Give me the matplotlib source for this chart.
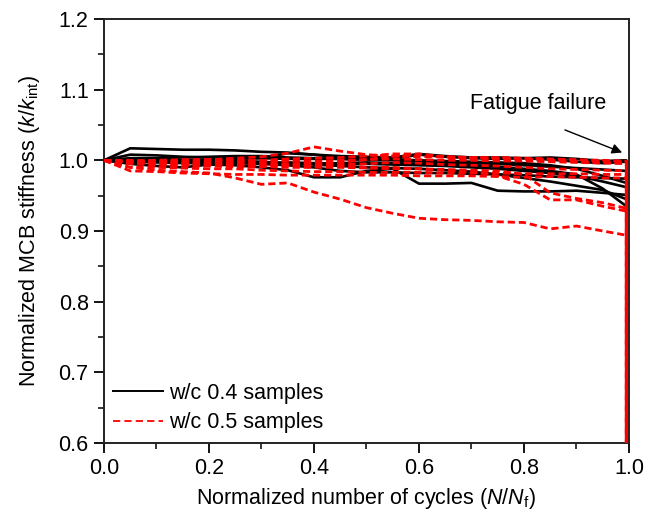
import numpy as np
import matplotlib
matplotlib.use("Agg")
import matplotlib.pyplot as plt

plt.rcParams['font.family'] = ['Liberation Sans', 'DejaVu Sans']
plt.rcParams['mathtext.fontset'] = 'custom'
plt.rcParams['mathtext.rm'] = 'Liberation Sans'
plt.rcParams['mathtext.it'] = 'Liberation Sans:italic'

x = [0.0, 0.05, 0.1, 0.15, 0.2, 0.25, 0.3, 0.35, 0.4, 0.45, 0.5, 0.55, 0.6,
     0.65, 0.7, 0.75, 0.8, 0.85, 0.9, 0.95, 0.995]
x_fail = 0.995
y_fail = 0.6

black_series = [
    [1.000,1.017,1.016,1.015,1.015,1.014,1.012,1.011,1.008,1.006,1.005,1.004,1.009,1.006,1.004,1.004,1.003,1.004,1.002,0.999,1.000],
    [1.000,1.008,1.007,1.005,1.004,1.004,1.003,1.010,1.008,1.004,1.002,1.002,1.008,1.005,1.003,1.002,1.003,1.001,0.998,0.996,0.998],
    [1.000,0.995,0.992,0.990,0.994,0.993,0.990,0.986,0.976,0.976,0.985,0.988,0.967,0.967,0.968,0.957,0.956,0.956,0.957,0.954,0.951],
    [1.000,1.002,1.001,1.000,0.999,0.998,0.995,0.993,0.990,0.985,0.983,0.983,0.982,0.982,0.981,0.980,0.979,0.977,0.976,0.975,0.974],
    [1.000,0.999,0.999,0.998,0.998,0.997,0.996,0.997,0.996,0.995,0.995,0.994,0.993,0.992,0.990,0.988,0.985,0.982,0.978,0.970,0.962],
    [1.000,1.000,1.001,1.000,1.001,1.002,1.003,1.002,1.002,1.002,1.001,1.001,1.000,0.999,0.998,0.997,0.996,0.993,0.988,0.978,0.968],
    [1.000,0.998,0.997,0.996,0.996,0.996,0.995,0.995,0.995,0.996,0.997,0.996,0.995,0.994,0.993,0.991,0.988,0.985,0.980,0.960,0.935],
    [1.000,1.003,1.003,1.004,1.005,1.006,1.006,1.004,1.003,1.002,1.001,1.000,0.998,0.996,0.996,0.995,0.993,0.991,0.989,0.987,0.985],
    [1.000,0.998,0.999,1.000,1.000,0.999,0.998,0.996,0.994,0.992,0.990,0.989,0.988,0.986,0.984,0.980,0.975,0.970,0.964,0.958,0.945],
]

red_series = [
    [1.000,0.990,0.986,0.984,0.982,0.975,0.966,0.968,0.955,0.945,0.933,0.925,0.918,0.916,0.915,0.913,0.912,0.903,0.907,0.900,0.894],
    [1.000,1.000,0.999,1.000,1.001,1.003,1.005,1.010,1.019,1.013,1.008,1.006,1.005,1.005,1.004,1.004,1.003,1.002,1.001,1.000,0.999],
    [1.000,0.995,0.993,0.992,0.992,0.991,0.991,0.990,0.990,0.990,0.989,0.988,0.988,0.986,0.984,0.978,0.966,0.944,0.944,0.935,0.928],
    [1.000,0.997,0.996,0.996,0.995,0.995,0.994,0.993,0.992,0.992,0.990,0.990,0.988,0.987,0.986,0.985,0.980,0.954,0.946,0.940,0.932],
    [1.000,0.985,0.984,0.982,0.981,0.980,0.980,0.979,0.979,0.979,0.979,0.979,0.978,0.978,0.978,0.977,0.976,0.977,0.976,0.975,0.975],
    [1.000,0.997,0.998,0.998,0.998,0.999,0.998,0.999,0.999,1.000,1.001,1.002,1.001,1.000,1.000,0.999,0.999,0.998,0.997,0.996,0.996],
    [1.000,0.996,0.997,0.996,0.997,0.996,0.996,0.995,0.996,0.997,1.001,1.006,1.008,1.004,1.003,1.002,1.001,1.000,0.999,0.999,0.998],
    [1.000,0.990,0.990,0.989,0.988,0.988,0.986,0.985,0.984,0.984,0.983,0.983,0.983,0.982,0.982,0.982,0.981,0.981,0.981,0.980,0.980],
    [1.000,0.998,0.996,0.994,0.994,0.993,0.993,0.993,0.994,0.994,0.995,0.997,0.996,0.994,0.993,0.992,0.990,0.988,0.987,0.986,0.985],
    [1.000,0.999,1.000,1.001,1.001,1.000,1.000,1.002,1.003,1.004,1.006,1.009,1.009,1.005,1.004,1.003,1.002,1.000,0.999,0.997,0.995],
]

labels = ["w/c 0.4 samples", "w/c 0.5 samples"]

FS = 15.5

fig = plt.figure(figsize=(6.56, 5.13), dpi=100)
ax = fig.add_axes([0.1585, 0.1365, 0.8003, 0.8265])

for i, s in enumerate(black_series):
    ax.plot(x + [x_fail], s + [y_fail], color='black', lw=1.9,
            label=labels[0] if i == 0 else None, zorder=2)
for i, s in enumerate(red_series):
    ax.plot(x + [x_fail], s + [y_fail], color='#ff0000', lw=2.0,
            linestyle=(0, (2.6, 1.4)), label=labels[1] if i == 0 else None, zorder=3)
ax.plot([x_fail, x_fail], [0.985, y_fail], color='#ff0000', lw=2.2, zorder=4)

ax.set_xlim(0, 1.0)
ax.set_ylim(0.6, 1.2)
ax.set_xticks(np.arange(0, 1.01, 0.2))
ax.set_xticks(np.arange(0.1, 1.0, 0.2), minor=True)
ax.set_yticks(np.arange(0.6, 1.201, 0.1))
ax.set_yticks(np.arange(0.65, 1.2, 0.1), minor=True)
ax.xaxis.set_major_formatter(matplotlib.ticker.FormatStrFormatter('%.1f'))
ax.yaxis.set_major_formatter(matplotlib.ticker.FormatStrFormatter('%.1f'))
ax.tick_params(which='major', direction='out', length=7, width=1.3, labelsize=FS,
               top=False, right=False, pad=4)
ax.tick_params(which='minor', direction='out', length=4, width=1.1,
               top=False, right=False)
for sp in ax.spines.values():
    sp.set_linewidth(1.4)
    sp.set_color('#222222')

ax.set_xlabel(r"Normalized number of cycles ($N$/$N$$_{\mathrm{f}}$)", fontsize=FS, labelpad=5)
ax.set_ylabel(r"Normalized MCB stiffness ($k$/$k$$_{\mathrm{int}}$)", fontsize=FS, labelpad=12)

ax.text(0.697, 1.081, "Fatigue failure", fontsize=FS, va='center', ha='left')
ax.annotate("", xy=(0.987, 1.011), xytext=(0.878, 1.043),
            arrowprops=dict(arrowstyle='-|>', color='black', lw=1.0,
                            mutation_scale=15, shrinkA=0, shrinkB=0))

leg = ax.legend(loc='lower left', bbox_to_anchor=(0.0, 0.003), frameon=False,
                fontsize=FS, handlelength=2.32, handletextpad=0.28,
                labelspacing=0.38, borderaxespad=0.0)
hl = leg.get_lines()
hl[0].set_linewidth(1.4)
hl[1].set_linewidth(1.3)
hl[1].set_linestyle((0, (4, 2.3)))

fig.savefig("out.png", dpi=100)
